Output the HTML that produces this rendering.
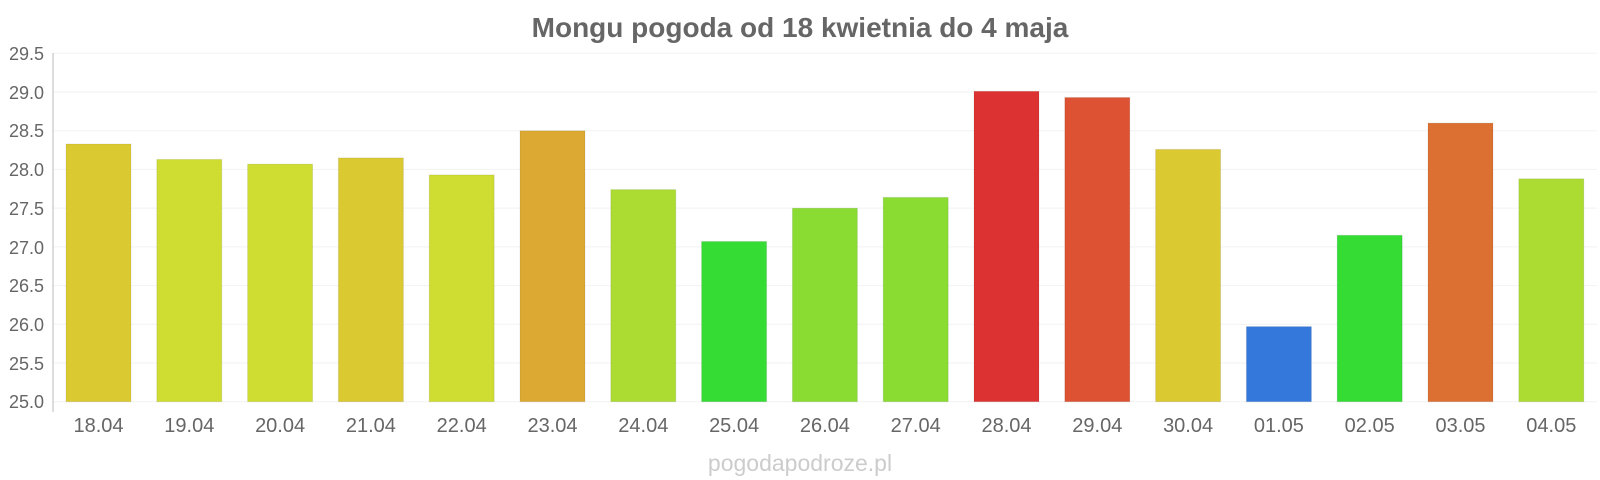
<!DOCTYPE html>
<html><head><meta charset="utf-8"><style>body{margin:0;background:#fff}svg{display:block;font-family:"Liberation Sans",sans-serif}</style></head><body>
<svg width="1600" height="480" viewBox="0 0 1600 480">
<text x="800" y="37" text-anchor="middle" font-size="28" font-weight="bold" fill="#666">Mongu pogoda od 18 kwietnia do 4 maja</text>
<g stroke="#f2f2f2" stroke-width="1">
<line x1="53" x2="1597" y1="53.3" y2="53.3"/><line x1="53" x2="1597" y1="92" y2="92"/><line x1="53" x2="1597" y1="130.7" y2="130.7"/><line x1="53" x2="1597" y1="169.4" y2="169.4"/><line x1="53" x2="1597" y1="208.1" y2="208.1"/><line x1="53" x2="1597" y1="246.9" y2="246.9"/><line x1="53" x2="1597" y1="285.6" y2="285.6"/><line x1="53" x2="1597" y1="324.3" y2="324.3"/><line x1="53" x2="1597" y1="363" y2="363"/><line x1="53" x2="1597" y1="401.7" y2="401.7"/>
</g>
<line x1="53" x2="53" y1="53" y2="412" stroke="#bbb"/>
<g font-size="18" fill="#666" text-anchor="end">
<text x="44" y="60">29.5</text><text x="44" y="99">29.0</text><text x="44" y="137">28.5</text><text x="44" y="176">28.0</text><text x="44" y="215">27.5</text><text x="44" y="254">27.0</text><text x="44" y="292">26.5</text><text x="44" y="331">26.0</text><text x="44" y="370">25.5</text><text x="44" y="408">25.0</text>
</g>
<g stroke="rgba(0,0,0,0.08)">
<rect x="66" y="144" width="65" height="257.7" fill="#dbc932"/>
<rect x="156.8" y="159.4" width="65" height="242.3" fill="#cfdc32"/>
<rect x="247.6" y="164.1" width="65" height="237.6" fill="#cfdc32"/>
<rect x="338.4" y="157.9" width="65" height="243.8" fill="#dbc932"/>
<rect x="429.2" y="174.9" width="65" height="226.8" fill="#cfdc32"/>
<rect x="520" y="130.8" width="65" height="270.9" fill="#dcaa32"/>
<rect x="610.8" y="189.6" width="65" height="212.1" fill="#acdc32"/>
<rect x="701.6" y="241.5" width="65" height="160.2" fill="#34dc34"/>
<rect x="792.4" y="208.2" width="65" height="193.5" fill="#8adc32"/>
<rect x="883.2" y="197.4" width="65" height="204.3" fill="#8adc32"/>
<rect x="974" y="91.3" width="65" height="310.4" fill="#dc3232"/>
<rect x="1064.8" y="97.5" width="65" height="304.2" fill="#dc5232"/>
<rect x="1155.6" y="149.4" width="65" height="252.3" fill="#dbc932"/>
<rect x="1246.4" y="326.6" width="65" height="75.1" fill="#3478dc"/>
<rect x="1337.2" y="235.3" width="65" height="166.4" fill="#34dc34"/>
<rect x="1428" y="123.1" width="65" height="278.6" fill="#dc7032"/>
<rect x="1518.8" y="178.8" width="65" height="222.9" fill="#acdc32"/>
</g>
<g font-size="20" fill="#666" text-anchor="middle">
<text x="98.5" y="432">18.04</text><text x="189.3" y="432">19.04</text><text x="280.1" y="432">20.04</text><text x="370.9" y="432">21.04</text><text x="461.7" y="432">22.04</text><text x="552.5" y="432">23.04</text><text x="643.3" y="432">24.04</text><text x="734.1" y="432">25.04</text><text x="824.9" y="432">26.04</text><text x="915.7" y="432">27.04</text><text x="1006.5" y="432">28.04</text><text x="1097.3" y="432">29.04</text><text x="1188.1" y="432">30.04</text><text x="1278.9" y="432">01.05</text><text x="1369.7" y="432">02.05</text><text x="1460.5" y="432">03.05</text><text x="1551.3" y="432">04.05</text>
</g>
<text x="800" y="471" text-anchor="middle" font-size="23" fill="#ccc">pogodapodroze.pl</text>
</svg>
</body></html>
